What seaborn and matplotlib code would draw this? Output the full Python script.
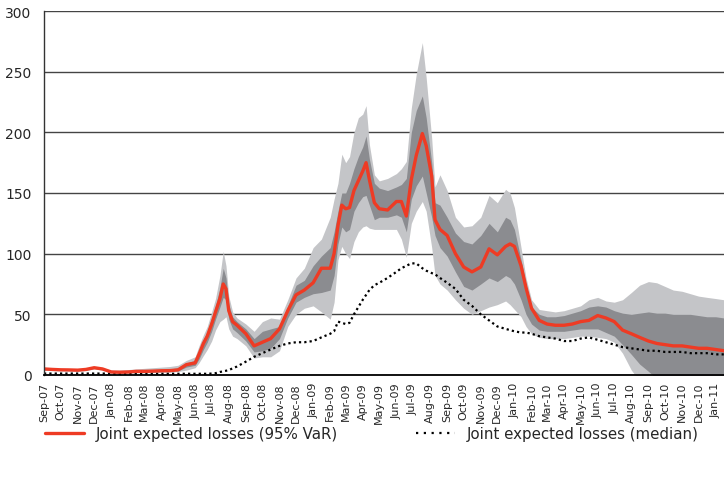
import matplotlib
matplotlib.use("Agg")
import matplotlib.pyplot as plt
import matplotlib.dates as mdates
from matplotlib.lines import Line2D
import seaborn as sns
import pandas as pd

# sample dates (denser around the peaks)
dates = [
    "2007-09-01", "2007-09-16", "2007-10-01", "2007-10-16", "2007-11-01", "2007-11-16",
    "2007-12-01", "2007-12-16", "2008-01-01", "2008-01-16", "2008-02-01", "2008-02-15",
    "2008-03-01", "2008-03-16", "2008-04-01", "2008-04-16", "2008-05-01", "2008-05-16",
    "2008-06-01", "2008-06-08", "2008-06-16", "2008-06-23", "2008-07-01", "2008-07-08",
    "2008-07-16", "2008-07-22", "2008-07-27", "2008-08-01", "2008-08-08", "2008-08-16",
    "2008-09-01", "2008-09-16", "2008-10-01", "2008-10-16", "2008-11-01", "2008-11-16",
    "2008-12-01", "2008-12-16", "2009-01-01", "2009-01-16",
    "2009-02-01", "2009-02-08", "2009-02-15", "2009-02-22", "2009-03-01", "2009-03-08",
    "2009-03-16", "2009-03-24", "2009-04-01", "2009-04-07", "2009-04-13", "2009-04-22",
    "2009-05-01", "2009-05-16", "2009-06-01", "2009-06-10", "2009-06-19", "2009-06-28",
    "2009-07-07", "2009-07-18", "2009-07-25", "2009-08-04", "2009-08-10", "2009-08-19",
    "2009-09-01", "2009-09-16", "2009-10-01", "2009-10-16", "2009-11-01", "2009-11-16",
    "2009-12-01", "2009-12-16", "2009-12-24", "2010-01-01", "2010-01-13", "2010-01-22",
    "2010-02-01", "2010-02-15", "2010-03-01", "2010-03-16", "2010-04-01", "2010-04-16",
    "2010-05-01", "2010-05-16", "2010-06-01", "2010-06-16", "2010-07-01", "2010-07-16",
    "2010-08-01", "2010-08-16", "2010-09-01", "2010-09-16", "2010-10-01", "2010-10-16",
    "2010-11-01", "2010-11-16", "2010-12-01", "2010-12-16", "2011-01-01", "2011-01-16",
]

var95 = [
    5.0, 4.6, 4.3, 4.2, 4.0, 4.6, 6.0, 5.0, 2.5, 2.3, 2.5, 3.0, 3.0, 3.2, 3.5, 3.6, 4.2, 8.5,
    10, 17, 26, 32, 42, 52, 63, 75, 71, 53, 44, 41,
    34, 24, 27, 30, 38, 53, 66, 70, 76, 88,
    88, 100, 123, 140, 137, 138, 152, 160, 168, 175, 161, 142,
    137, 136, 143, 143, 131, 161, 181, 199, 189, 164, 128, 120,
    115, 100, 89, 85, 89, 104, 99, 106, 108, 106, 90, 72,
    55, 45, 42, 41, 41, 42, 44, 45, 49, 47, 44, 37, 34, 31, 28, 26, 25, 24, 24, 23, 22, 22, 21, 20,
]

median = [
    1.2, 1.2, 1.2, 1.2, 1.2, 1.2, 1.2, 1.2, 1.0, 1.0, 1.0, 1.0, 1.0, 1.0, 1.0, 1.0, 1.0, 1.0,
    1.0, 1.0, 1.0, 1.0, 1.2, 1.5, 2.5, 3.0, 3.5, 4.0, 5.5, 7.0,
    11, 15, 18, 21, 24, 26, 27, 27, 28, 31,
    34, 36, 44, 43, 42, 43, 50, 56, 62, 66, 70, 74,
    76, 80, 85, 88, 90, 92, 92, 88, 86, 84, 83, 80,
    76, 71, 62, 57, 50, 45, 40, 38, 37, 36, 35, 35,
    34, 32, 31, 30, 28, 28, 30, 31, 29, 27, 25, 23, 22, 21, 20, 20, 19, 19, 19, 18, 18, 18, 17, 17,
]

light_hi = [
    6, 5.5, 5.2, 5, 5, 5.5, 7, 6, 4, 4, 4.5, 5, 5.5, 6, 6.5, 7, 8, 12,
    15, 24, 33, 40, 52, 63, 82, 102, 90, 65, 52, 47,
    42, 36, 44, 47, 46, 62, 80, 88, 105, 112,
    130, 145, 158, 182, 175, 180, 200, 212, 215, 222, 190, 165,
    160, 162, 166, 170, 176, 220, 248, 274, 245, 195, 155, 165,
    152, 130, 122, 123, 130, 148, 142, 153, 150, 138, 105, 80,
    62, 54, 53, 52, 53, 55, 57, 62, 64, 61, 60, 62, 68, 74, 77, 76, 73, 70, 69, 67, 65, 64, 63, 62,
]

dark_hi = [
    5.5, 5.1, 4.8, 4.7, 4.5, 5.1, 6.5, 5.5, 3, 2.8, 3.2, 3.8, 4, 4.3, 4.7, 5, 6, 10,
    12, 20, 29, 36, 47, 57, 72, 88, 80, 58, 48, 44,
    38, 30, 36, 38, 40, 57, 74, 78, 90, 98,
    105, 118, 135, 150, 150, 158, 170, 180, 188, 197, 178, 158,
    154, 152, 155, 157, 162, 200, 218, 230, 212, 175, 142, 140,
    130, 117, 110, 108, 115, 125, 118, 130, 128, 120, 95, 75,
    56, 50, 48, 48, 49, 51, 53, 56, 57, 56, 53, 51, 50, 51, 52, 51, 51, 50, 50, 50, 49, 48, 48, 47,
]

dark_lo = [
    4.5, 4.1, 3.8, 3.7, 3.5, 4.1, 5.5, 4.5, 2, 1.8, 2, 2.4, 2.4, 2.6, 2.8, 2.9, 3.4, 6.5,
    8, 13, 21, 27, 36, 46, 56, 64, 62, 46, 38, 35,
    28, 19, 20, 22, 30, 47, 60, 64, 67, 68,
    70, 82, 108, 122, 118, 120, 135, 142, 147, 148, 140, 128,
    130, 130, 132, 130, 118, 145, 156, 164, 150, 130, 115, 105,
    98, 85, 73, 70, 75, 80, 77, 82, 80, 75, 62, 50,
    42, 37, 36, 36, 36, 37, 38, 38, 38, 35, 32, 25, 17, 9, 3, -3, -8, -12, -15, -17, -19, -20, -21, -22,
]

light_lo = [
    4, 3.6, 3.3, 3.2, 3, 3.6, 5, 4, 1.5, 1.3, 1.5, 1.8, 1.8, 2, 2.2, 2.3, 2.8, 4,
    6, 10, 16, 21, 28, 37, 44, 46, 48, 38, 32, 30,
    24, 14, 15, 15, 20, 40, 50, 55, 57, 52,
    46, 60, 95, 106, 100, 96, 110, 118, 122, 123, 121, 120,
    120, 120, 120, 112, 97, 125, 135, 143, 135, 105, 82, 75,
    70, 62, 55, 50, 53, 56, 58, 61, 58, 54, 48, 40,
    34, 31, 30, 30, 30, 31, 32, 32, 31, 30, 27, 18, 4, -5, -10, -15, -20, -25, -28, -30, -32, -33, -34, -35,
]

df = pd.DataFrame({
    "date": pd.to_datetime(dates),
    "var95": var95,
    "median": median,
    "light_lo": light_lo,
    "light_hi": light_hi,
    "dark_lo": dark_lo,
    "dark_hi": dark_hi,
})

sns.set_style("white")
plt.rcParams["font.family"] = ["DejaVu Sans"]
plt.rcParams["axes.axisbelow"] = True

red = "#ee3b24"

fig = plt.figure(figsize=(7.24, 4.89), dpi=100)
ax = fig.add_axes([44 / 724, 1 - 376 / 489, 680 / 724, 364 / 489])

ax.fill_between(df["date"], df["light_lo"], df["light_hi"], color="#c4c5c8", lw=0)
ax.fill_between(df["date"], df["dark_lo"], df["dark_hi"], color="#8b8c90", lw=0)
sns.lineplot(data=df, x="date", y="median", ax=ax, color="black", lw=1.6,
             linestyle=(0, (1, 1.4)))
sns.lineplot(data=df, x="date", y="var95", ax=ax, color=red, lw=2.4)

ax.set_ylim(0, 300)
ax.set_xlim(pd.Timestamp("2007-09-01"), pd.Timestamp("2011-01-16"))
ax.set_yticks(range(0, 301, 50))
ax.yaxis.grid(True, color="#444444", lw=1)
ax.xaxis.grid(False)
ax.xaxis.set_major_locator(mdates.MonthLocator())
ax.xaxis.set_major_formatter(mdates.DateFormatter("%b-%y"))
ax.tick_params(axis="x", length=0, pad=5, labelsize=8, labelrotation=90)
ax.tick_params(axis="y", length=0, pad=9, labelsize=10)
ax.set_xlabel("")
ax.set_ylabel("")

for s in ["top", "right"]:
    ax.spines[s].set_visible(False)
ax.spines["left"].set_color("#333333")
ax.spines["left"].set_linewidth(1)
ax.spines["bottom"].set_color("black")
ax.spines["bottom"].set_linewidth(1.3)

handles = [
    Line2D([], [], color=red, lw=2.4),
    Line2D([], [], color="black", lw=1.6, linestyle=(0, (1, 2.5))),
]
labels = ["Joint expected losses (95% VaR)", "Joint expected losses (median)"]
fig.legend(handles, labels, loc="center left", bbox_to_anchor=(45 / 724, 1 - 435 / 489),
           ncol=2, frameon=False, fontsize=10.8, borderpad=0, borderaxespad=0,
           handlelength=2.6, handletextpad=0.8, columnspacing=5.2)

fig.savefig("out.png", dpi=100)
plt.close(fig)
